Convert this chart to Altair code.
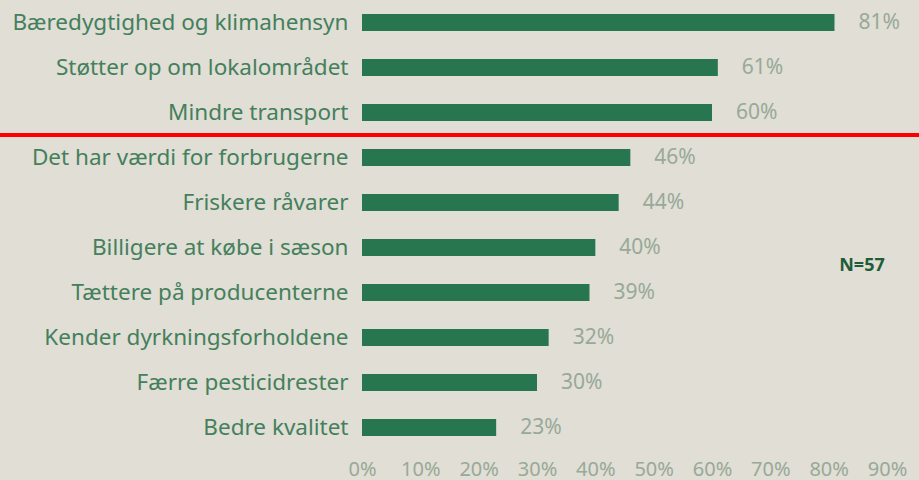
import altair as alt
import pandas as pd

categories = [
    "Bæredygtighed og klimahensyn",
    "Støtter op om lokalområdet",
    "Mindre transport",
    "Det har værdi for forbrugerne",
    "Friskere råvarer",
    "Billigere at købe i sæson",
    "Tættere på producenterne",
    "Kender dyrkningsforholdene",
    "Færre pesticidrester",
    "Bedre kvalitet",
]
values = [81, 61, 60, 46, 44, 40, 39, 32, 30, 23]
tick_values = [0, 10, 20, 30, 40, 50, 60, 70, 80, 90]
note = "N=57"

df = pd.DataFrame({"cat": categories, "val": values})
df["lbl"] = df["val"].astype(str) + "%"

BG = "#e0ded5"
BAR = "#287650"
LBL = "#44805c"
VAL = "#98a998"
FONT = "Noto Sans"

y_enc = alt.Y(
    "cat:N",
    sort=categories,
    scale=alt.Scale(paddingInner=0.62, paddingOuter=0.31),
    axis=alt.Axis(
        title=None, ticks=False, domain=False, labelFontSize=22.5,
        labelColor=LBL, labelFont=FONT, labelPadding=14, labelLimit=400,
    ),
)
x_scale = alt.Scale(domain=[0, 90], nice=False, zero=True)

bars = alt.Chart(df).mark_bar(color=BAR).encode(
    x=alt.X(
        "val:Q", scale=x_scale,
        axis=alt.Axis(
            title=None, values=tick_values, labelExpr="datum.value + '%'",
            grid=False, domain=False, ticks=False, labelFontSize=20,
            labelColor=VAL, labelFont=FONT, labelPadding=9, labelFlush=False,
            labelOverlap=False,
        ),
    ),
    y=y_enc,
)

text = alt.Chart(df).mark_text(
    align="left", baseline="middle", dx=24, fontSize=21, color=VAL, font=FONT
).encode(x=alt.X("val:Q", scale=x_scale), y=alt.Y("cat:N", sort=categories), text="lbl:N")

divider = alt.Chart(df).mark_rule(color="#ff0000", strokeWidth=4).encode(
    x=alt.value(-362), x2=alt.value(557), y=alt.value(135)
)

n_text = alt.Chart(pd.DataFrame({"t": [note]})).mark_text(
    align="center", baseline="middle", fontSize=18, fontWeight="bold",
    color="#1f5c38", font=FONT,
).encode(x=alt.value(500), y=alt.value(266), text="t:N")

chart = (
    alt.layer(bars, text, divider, n_text)
    .properties(
        width=525, height=450, background=BG,
        padding={"left": 362, "top": 0, "right": 32, "bottom": 30},
        autosize="none",
    )
    .configure_view(stroke=None)
)

chart.save("out.html", embed_options={"renderer": "svg", "actions": False})
